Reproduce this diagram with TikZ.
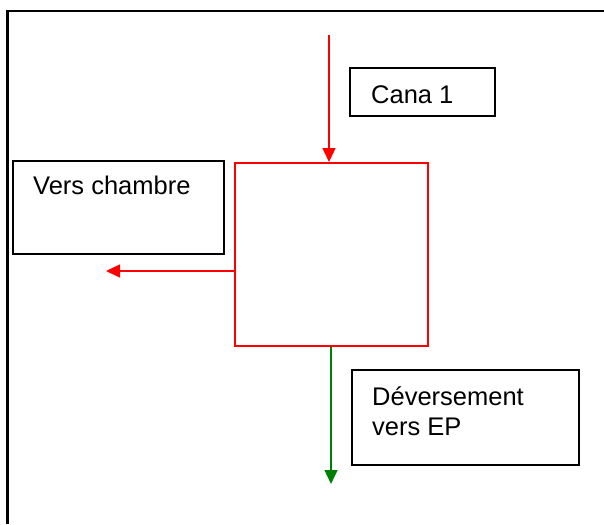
\documentclass[tikz,border=0pt]{standalone}
\usepackage{fontspec}
\setmainfont{Liberation Sans}
\usetikzlibrary{arrows.meta}

\tikzset{
  frame/.style={line width=2.6pt},
  box/.style={draw,line width=1.8pt,anchor=north west,inner sep=0pt},
  redbox/.style={draw=red,line width=1.5pt,anchor=north west,inner sep=0pt},
  lbl/.style={anchor=base west,inner sep=0pt,font=\fontsize{25.5}{30}\selectfont,align=left},
  redarrow/.style={draw=red,line width=1.5pt,-{Triangle[length=14pt,width=13pt]}},
  greenarrow/.style={draw=green!50!black,line width=1.5pt,-{Triangle[length=14pt,width=13pt]}}
}

\begin{document}
\begin{tikzpicture}[x=1pt,y=-1pt]
 \useasboundingbox (0,0) rectangle (604,524);
 \draw[frame] (7.5,524) -- (7.5,11) -- (604,11);

 \node[redbox,minimum width=193pt,minimum height=183pt](reg) at (234,162){};

 \node[box,minimum width=145pt,minimum height=48pt](cana) at (349,67){};
 \node[lbl](canatxt) at (371,103){Cana 1};

 \node[box,minimum width=211pt,minimum height=93pt](chambre) at (12,160){};
 \node[lbl](chambretxt) at (33,194){Vers chambre};

 \node[box,minimum width=227pt,minimum height=95pt](ep) at (351,369){};
 % base of a two-line node is its last line
 \node[lbl](eptxt) at (372,435){Déversement\\vers EP};

 \coordinate (in) at (329,35);
 \coordinate (outL) at (106,271);
 \coordinate (outB) at (331,484);

 \draw[redarrow] (in) -- (in |- reg.north);
 \draw[redarrow] (reg.west |- outL) -- (outL);
 \draw[greenarrow] (outB |- reg.south) -- (outB);

\end{tikzpicture}
\end{document}
